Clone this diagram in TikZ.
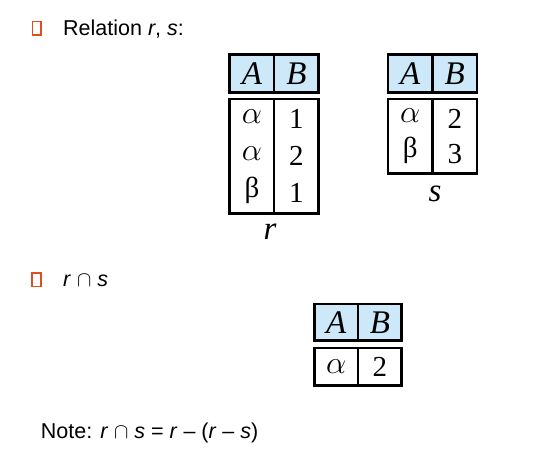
\documentclass[tikz,border=0pt]{standalone}
\usepackage{fix-cm}
\usepackage{fontspec}
\newfontfamily\slidefont{Liberation Sans}
\newfontfamily\tablefont{Liberation Serif}
\usetikzlibrary{positioning}
\definecolor{headblue}{RGB}{205,232,249}
\definecolor{bulletred}{RGB}{222,78,30}
% wide italic alpha as in the table cells
\newcommand{\alf}{{\fontsize{32}{37}\selectfont$\alpha$}}

\begin{document}
\begin{tikzpicture}[x=1pt, y=-1pt,
    head/.style={rectangle, draw=black, line width=2.6pt, fill=headblue,
                 minimum width=44.5pt, minimum height=38pt, inner sep=0pt,
                 outer sep=0pt, font=\tablefont\itshape\fontsize{33}{33}\selectfont},
    body/.style={rectangle, draw=black, line width=2.6pt, minimum width=44.5pt,
                 inner sep=0pt, outer sep=0pt, align=center,
                 font=\tablefont\fontsize{29}{37}\selectfont},
    relname/.style={font=\tablefont\itshape\fontsize{33}{33}\selectfont},
    bullet/.style={rectangle, draw=bulletred, line width=1.6pt,
                   minimum width=8.5pt, minimum height=13.5pt, inner sep=0pt},
    slide/.style={anchor=base west, inner sep=0pt,
                  font=\slidefont\fontsize{21.5}{26}\selectfont}
]
\useasboundingbox (0,0) rectangle (538,466);

    % Relation r, s
    \node[bullet] (b1) at (36.6,28.2) {};
    \node[slide] (t1) at (63,35) {Relation \textit{r}, \textit{s}:};

    % Table r
    \node[head] (rA) at (251.9,73.5) {A};
    \node[head, right=0pt of rA] (rB) {B};
    \node[body, minimum height=114.7pt, below=6.5pt of rA] (ra) {\alf\\\alf\\β};
    \node[body, minimum height=114.7pt, below=6.5pt of rB] (rb) {1\\2\\1};
    \node[relname] (rname) at (270,232) {r};

    % Table s
    \node[head] (sA) at (410.3,73.5) {A};
    \node[head, right=0pt of sA] (sB) {B};
    \node[body, minimum height=74.7pt, below=6.5pt of sA,
          font=\tablefont\fontsize{29}{35}\selectfont] (sa) {\alf\\β};
    \node[body, minimum height=74.7pt, below=6.5pt of sB,
          font=\tablefont\fontsize{29}{35}\selectfont] (sb) {2\\3};
    \node[relname] (sname) at (435,194) {s};

    % r intersect s
    \node[bullet] (b2) at (36.5,279.6) {};
    \node[slide] (t2) at (63,286.7) {\textit{r} $\cap$ \textit{s}};

    % Result table
    \node[head, minimum width=43.7pt, minimum height=36.7pt] (iA) at (336.2,322.3) {A};
    \node[head, minimum width=43.7pt, minimum height=36.7pt, right=0pt of iA] (iB) {B};
    \node[body, minimum width=43.7pt, minimum height=37.4pt, below=7.3pt of iA] (ia) {\alf};
    \node[body, minimum width=43.7pt, minimum height=37.4pt, below=7.3pt of iB] (ib) {2};

    % Note
    \node[slide] (note) at (40.7,438) {Note: \textit{r} $\cap$ \textit{s} = \textit{r} – (\textit{r} – \textit{s})};

\end{tikzpicture}
\end{document}
